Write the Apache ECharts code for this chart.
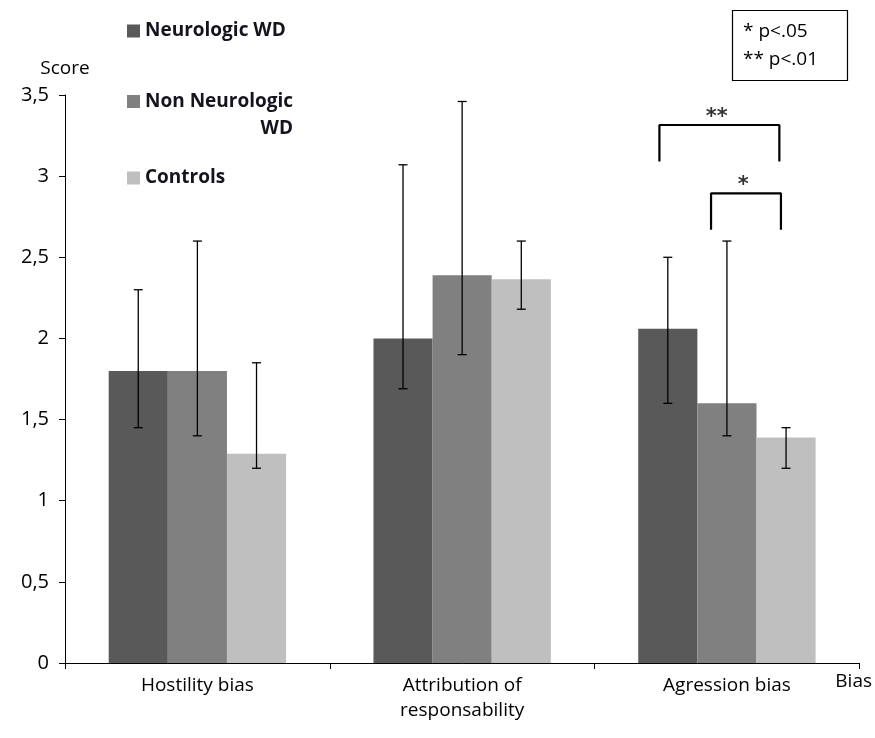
<!DOCTYPE html>
<html>
<head>
<meta charset="utf-8">
<script src="https://cdn.jsdelivr.net/npm/echarts@6/dist/echarts.min.js"></script>
<style>
html,body{margin:0;padding:0;background:#fff;}
#c{width:875px;height:738px;}
</style>
</head>
<body>
<div id="c"></div>
<script>
// ---- data ----
const categories = ['Hostility bias', 'Attribution of\nresponsability', 'Agression bias'];
const seriesNames = ['Neurologic WD', 'Non Neurologic WD', 'Controls'];
const neuro = [1.8, 2.0, 2.06];
const nonNeuro = [1.8, 2.39, 1.6];
const controls = [1.29, 2.365, 1.39];
const neuroLow = [1.45, 1.69, 1.6];
const neuroHigh = [2.3, 3.07, 2.5];
const nonNeuroLow = [1.4, 1.9, 1.4];
const nonNeuroHigh = [2.6, 3.46, 2.6];
const controlsLow = [1.2, 2.18, 1.2];
const controlsHigh = [1.85, 2.6, 1.45];
const yMin = 0, yMax = 3.5, yStep = 0.5;
// significance brackets (in category units along x, score units along y)
const bracketLabels = ['**', '*'];
const bracketStart = [2.245, 2.44];
const bracketEnd = [2.698, 2.704];
const bracketTop = [3.315, 2.894];
const bracketLeg = [3.09, 2.67];
const sigNote = '* p<.05\n** p<.01';

const colors = ['#595959', '#808080', '#bfbfbf'];
const FONT = "'Open Sans', 'Noto Sans', sans-serif";
const GAP = 0.33;

const values = [neuro, nonNeuro, controls];
const lows = [neuroLow, nonNeuroLow, controlsLow];
const highs = [neuroHigh, nonNeuroHigh, controlsHigh];

const series = [];
seriesNames.forEach((n, i) => {
  series.push({
    name: n, type: 'bar', data: values[i],
    barGap: '0%', barCategoryGap: (GAP * 100) + '%',
    itemStyle: { color: colors[i] }, silent: true
  });
});
seriesNames.forEach((n, i) => {
  series.push({
    type: 'custom', silent: true, z: 5,
    data: categories.map((c, k) => [k, lows[i][k], highs[i][k]]),
    renderItem: function (params, api) {
      const k = api.value(0);
      const lo = api.coord([k, api.value(1)]);
      const hi = api.coord([k, api.value(2)]);
      const band = api.size([1, 0])[0];
      const bw = band * (1 - GAP) / 3;
      const x = lo[0] + (i - 1) * bw;
      const cap = 4.5;
      const st = { stroke: '#000', lineWidth: 1.3 };
      return {
        type: 'group', children: [
          { type: 'line', shape: { x1: x, y1: lo[1], x2: x, y2: hi[1] }, style: st },
          { type: 'line', shape: { x1: x - cap, y1: lo[1], x2: x + cap, y2: lo[1] }, style: st },
          { type: 'line', shape: { x1: x - cap, y1: hi[1], x2: x + cap, y2: hi[1] }, style: st }
        ]
      };
    }
  });
});
bracketLabels.forEach((lab, j) => {
  series.push({
    type: 'line', xAxisIndex: 1, silent: true, symbol: 'none', z: 6,
    lineStyle: { color: '#000', width: 2.2 },
    data: [[bracketStart[j], bracketLeg[j]], [bracketStart[j], bracketTop[j]],
           [bracketEnd[j], bracketTop[j]], [bracketEnd[j], bracketLeg[j]]]
  });
  series.push({
    type: 'scatter', xAxisIndex: 1, silent: true, symbolSize: 0, z: 6,
    data: [[(bracketStart[j] + bracketEnd[j]) / 2 - 0.01, bracketTop[j]]],
    label: { show: true, position: 'top', distance: -3, formatter: lab,
      color: '#000', fontSize: 21, fontWeight: 'bold', fontFamily: 'DejaVu Sans' }
  });
});

const LEGEND_TEXT = { fontSize: 19, fontWeight: 'bold', color: '#14141e', fontFamily: FONT };
const legendBase = {
  orient: 'vertical', icon: 'rect', itemWidth: 13, itemHeight: 13, itemGap: 0,
  left: 122, selectedMode: false,
  textStyle: Object.assign({ lineHeight: 26 }, LEGEND_TEXT)
};

const option = {
  animation: false,
  backgroundColor: '#fff',
  title: {
    text: sigNote, left: 732, top: 10, padding: [8, 30, 7, 11],
    borderColor: '#000', borderWidth: 1.2,
    textStyle: { fontSize: 19, fontWeight: 'normal', color: '#000', fontFamily: FONT, lineHeight: 28 }
  },
  legend: [
    Object.assign({}, legendBase, { data: [seriesNames[0]], top: 13 }),
    Object.assign({}, legendBase, {
      data: [seriesNames[1]], top: 87,
      icon: 'path://M0,0L13,0L13,13L0,13Z M0,40Z', itemHeight: 40,
      formatter: () => '{a|Non Neurologic}\n{b|WD}',
      textStyle: {
        rich: {
          a: Object.assign({ lineHeight: 27 }, LEGEND_TEXT),
          b: Object.assign({ lineHeight: 27, align: 'right' }, LEGEND_TEXT)
        }
      }
    }),
    Object.assign({}, legendBase, { data: [seriesNames[2]], top: 160 })
  ],
  grid: { left: 65, right: 15, top: 95, bottom: 75, containLabel: false },
  xAxis: [{
    type: 'category', data: categories,
    name: 'Bias', nameLocation: 'end', nameGap: -24,
    nameTextStyle: { fontSize: 19, color: '#000', fontFamily: FONT, verticalAlign: 'top', padding: [9, 0, 0, 0] },
    axisLine: { lineStyle: { color: '#000', width: 1 } },
    axisTick: { show: true, length: 6, lineStyle: { color: '#000' } },
    axisLabel: { color: '#000', fontSize: 19, fontFamily: FONT, margin: 10, lineHeight: 25 }
  }, {
    type: 'value', min: 0, max: categories.length, show: false
  }],
  yAxis: {
    type: 'value', min: yMin, max: yMax, interval: yStep,
    name: 'Score', nameLocation: 'end', nameGap: 17,
    nameTextStyle: { fontSize: 19, color: '#000', fontFamily: FONT, align: 'center' },
    axisLine: { show: true, lineStyle: { color: '#000', width: 1 } },
    axisTick: { show: true, length: 6, lineStyle: { color: '#000' } },
    splitLine: { show: false },
    axisLabel: { color: '#000', fontSize: 20, fontFamily: FONT, margin: 16,
      formatter: v => String(v).replace('.', ',') }
  },
  series: series
};
echarts.init(document.getElementById('c')).setOption(option);
</script>
</body>
</html>
